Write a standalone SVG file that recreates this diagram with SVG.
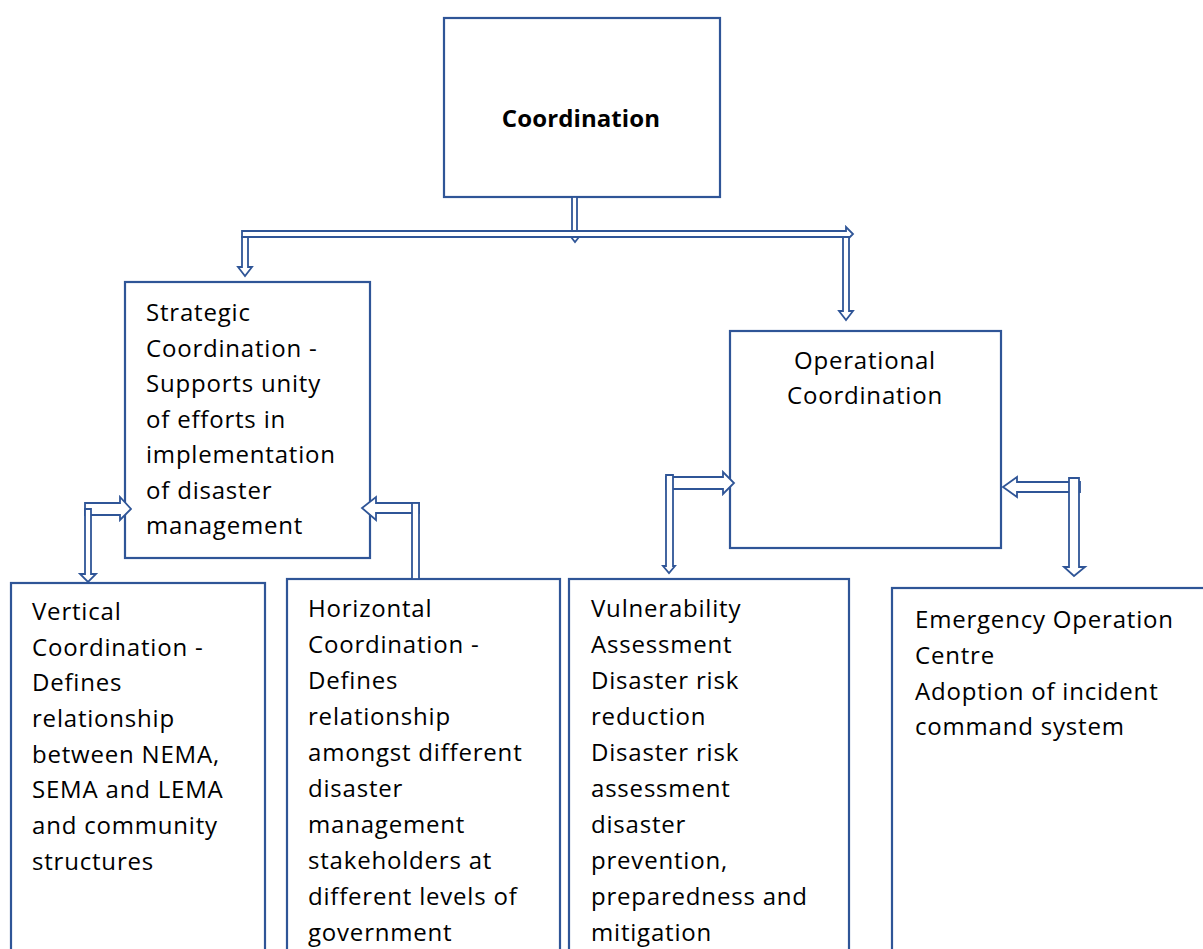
<svg xmlns="http://www.w3.org/2000/svg" width="1203" height="949" viewBox="0 0 1203 949">
<style>
.box{fill:#fff;stroke:#2F5597;stroke-width:2.2}
.arr{fill:#fff;stroke:#2F5597;stroke-width:1.8;stroke-linejoin:miter}
.t{font-family:"Open Sans","Noto Sans",sans-serif;font-size:24px;letter-spacing:0.8px;fill:#000}
.b{font-weight:bold;text-anchor:middle;letter-spacing:0.1px}
.m{text-anchor:middle}
</style>
<rect width="1203" height="949" fill="#fff"/>
<g id="coordination">
<rect class="box" x="444" y="18" width="276" height="179"/>
<text class="t b" x="581" y="127">Coordination</text>
</g>
<g id="strategic">
<rect class="box" x="125" y="282" width="245" height="276"/>
<text class="t" x="146" y="321">Strategic</text>
<text class="t" x="146" y="356.5">Coordination -</text>
<text class="t" x="146" y="392">Supports unity</text>
<text class="t" x="146" y="427.5">of efforts in</text>
<text class="t" x="146" y="463">implementation</text>
<text class="t" x="146" y="498.5">of disaster</text>
<text class="t" x="146" y="534">management</text>
</g>
<g id="operational">
<rect class="box" x="730" y="331" width="271" height="217"/>
<text class="t m" x="865" y="369">Operational</text>
<text class="t m" x="865" y="404">Coordination</text>
</g>
<g id="vertical">
<rect class="box" x="11" y="583" width="254" height="380"/>
<text class="t" x="32" y="620">Vertical</text>
<text class="t" x="32" y="656">Coordination -</text>
<text class="t" x="32" y="691">Defines</text>
<text class="t" x="32" y="727">relationship</text>
<text class="t" x="32" y="763">between NEMA,</text>
<text class="t" x="32" y="798">SEMA and LEMA</text>
<text class="t" x="32" y="834">and community</text>
<text class="t" x="32" y="870">structures</text>
</g>
<g id="horizontal">
<rect class="box" x="287" y="579" width="273" height="380"/>
<text class="t" x="308" y="617">Horizontal</text>
<text class="t" x="308" y="653">Coordination -</text>
<text class="t" x="308" y="689">Defines</text>
<text class="t" x="308" y="725">relationship</text>
<text class="t" x="308" y="761">amongst different</text>
<text class="t" x="308" y="797">disaster</text>
<text class="t" x="308" y="833">management</text>
<text class="t" x="308" y="869">stakeholders at</text>
<text class="t" x="308" y="905">different levels of</text>
<text class="t" x="308" y="941">government</text>
</g>
<g id="vulnerability">
<rect class="box" x="569" y="579" width="280" height="380"/>
<text class="t" x="591" y="617">Vulnerability</text>
<text class="t" x="591" y="653">Assessment</text>
<text class="t" x="591" y="689">Disaster risk</text>
<text class="t" x="591" y="725">reduction</text>
<text class="t" x="591" y="761">Disaster risk</text>
<text class="t" x="591" y="797">assessment</text>
<text class="t" x="591" y="833">disaster</text>
<text class="t" x="591" y="869">prevention,</text>
<text class="t" x="591" y="905">preparedness and</text>
<text class="t" x="591" y="941">mitigation</text>
</g>
<g id="emergency">
<rect class="box" x="892" y="588" width="320" height="380"/>
<text class="t" x="915" y="628">Emergency Operation</text>
<text class="t" x="915" y="664">Centre</text>
<text class="t" x="915" y="700">Adoption of incident</text>
<text class="t" x="915" y="735">command system</text>
</g>
<g id="connectors">
<rect class="arr" x="572" y="197" width="5" height="35"/>
<polygon class="arr" points="242,231 846,231 846,227 853,234 846,241 846,237 242,237"/>
<polygon class="arr" points="571,237 575,242 579,237"/>
<polygon class="arr" points="242,237 242,267 238,267 245,276 252,267 248,267 248,237"/>
<polygon class="arr" points="843,237 843,311 839,311 846,320 853,311 849,311 849,237"/>
<polygon class="arr" points="85,503 120,503 120,497 131,509 120,520 120,515 85,515"/>
<polygon class="arr" points="85,509 85,574 80,574 88,582 96,574 91,574 91,509"/>
<polygon class="arr" points="419,503 376,503 376,497 362,508 376,520 376,513 419,513"/>
<rect class="arr" x="412" y="503" width="7" height="76"/>
<polygon class="arr" points="666,477 723,477 723,472 734,483 723,494 723,489 666,489"/>
<polygon class="arr" points="666,475 666,566 663,566 669,573 675,566 673,566 673,475"/>
<polygon class="arr" points="1080,482 1017,482 1017,477 1003,487 1017,497 1017,492 1080,492"/>
<polygon class="arr" points="1069,478 1069,567 1064,567 1074,576 1085,567 1079,567 1079,478"/>
</g>
</svg>
